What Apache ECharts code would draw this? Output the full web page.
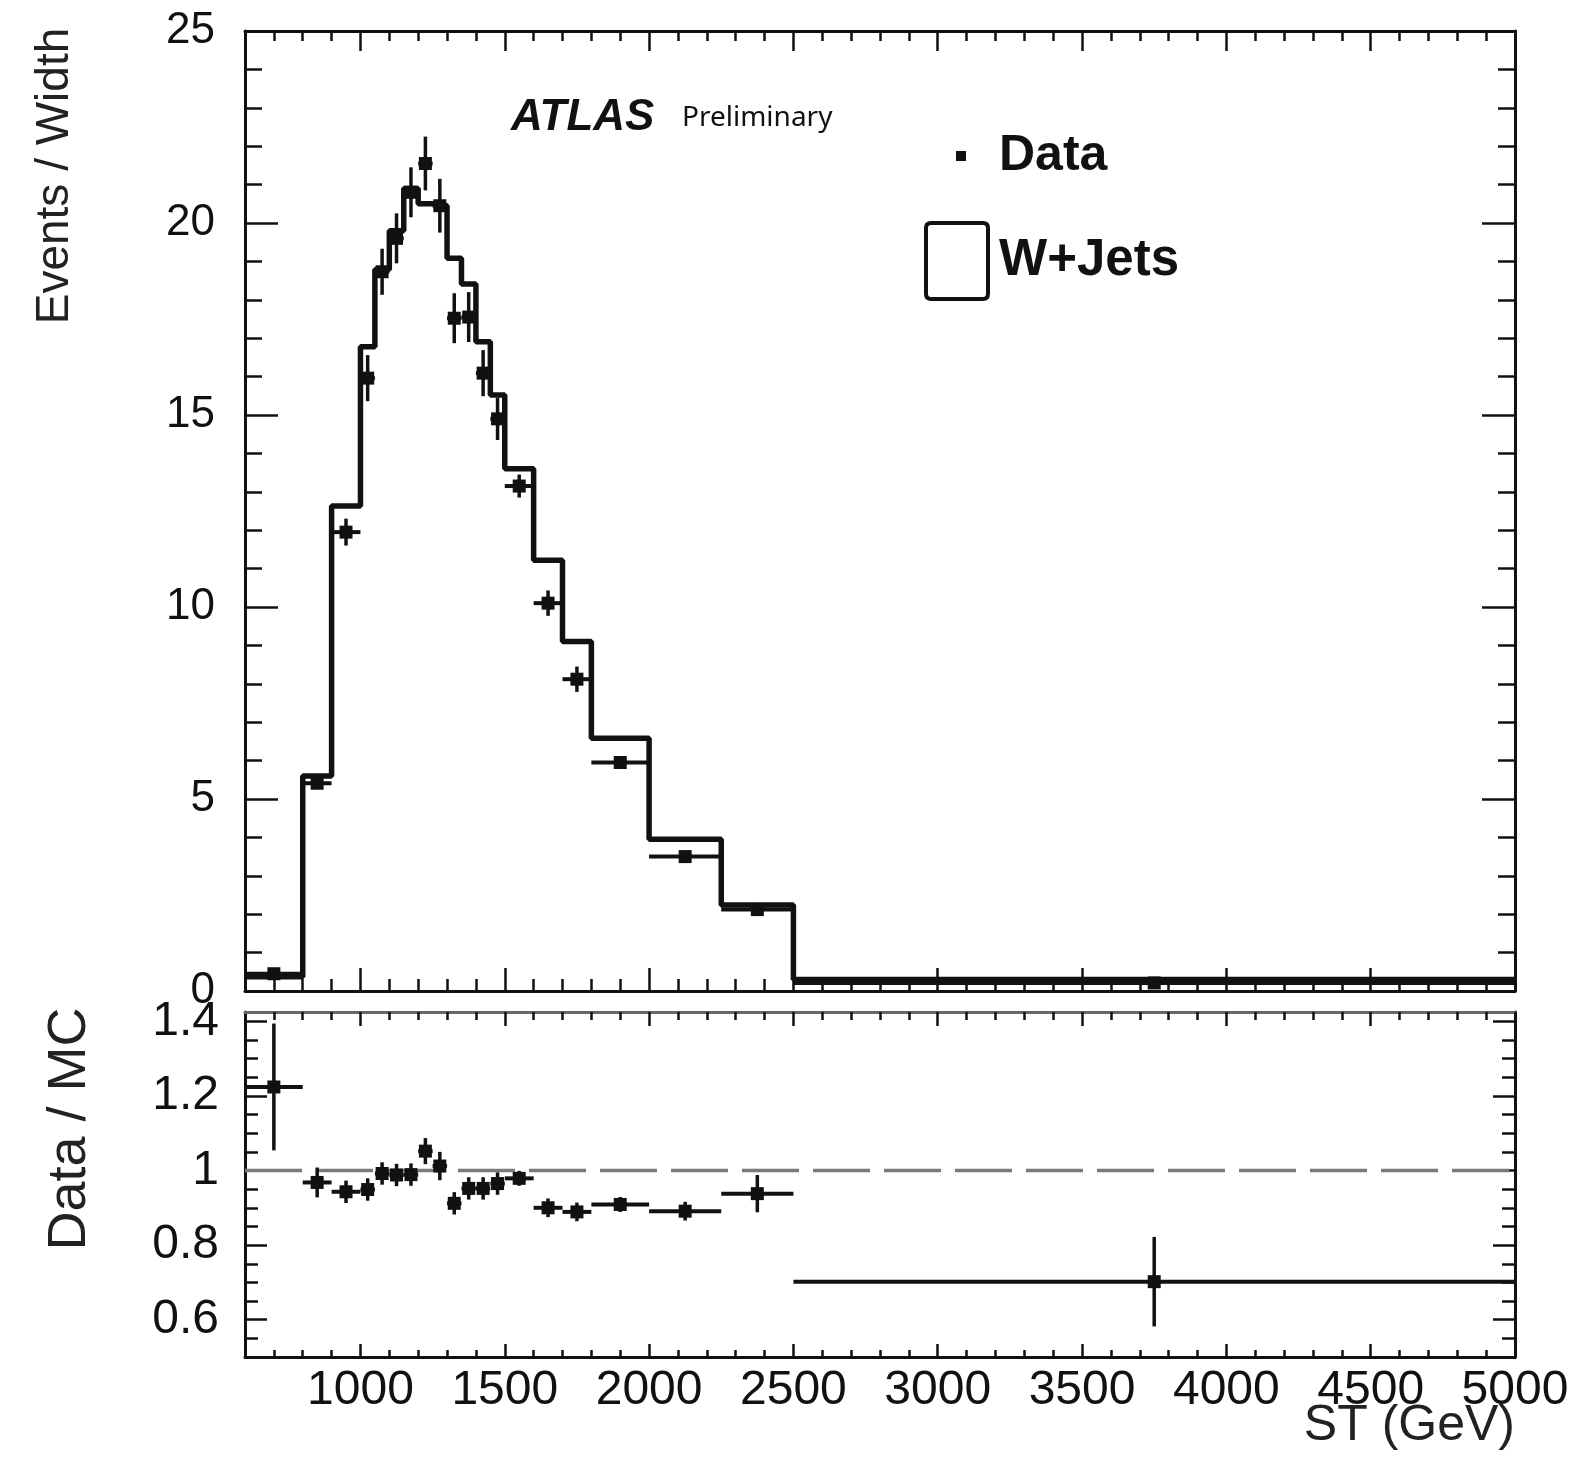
<!DOCTYPE html>
<html>
<head>
<meta charset="utf-8">
<title>ST distribution: Data vs W+Jets</title>
<script src="https://cdn.jsdelivr.net/npm/echarts@6/dist/echarts.min.js"></script>
<style>
  html, body { margin: 0; padding: 0; background: #fff; }
  #chart { width: 1578px; height: 1468px; }
</style>
</head>
<body>
<div id="chart"></div>
<script>
// ST binning (GeV): 20 bins, variable width
const binEdges = [600, 800, 900, 1000, 1050, 1100, 1150, 1200, 1250, 1300, 1350,
                  1400, 1450, 1500, 1600, 1700, 1800, 2000, 2250, 2500, 5000];

// W+Jets prediction, events / width
const wjetsValues = [0.37, 5.6, 12.63, 16.78, 18.79, 19.8, 20.9, 20.5, 20.45, 19.08,
                     18.41, 16.91, 15.52, 13.6, 11.22, 9.1, 6.58, 3.95, 2.24, 0.3];

// Observed data, events / width, with statistical errors
const dataValues = [0.45, 5.41, 11.95, 15.96, 18.73, 19.6, 20.8, 21.55, 20.45, 17.52,
                    17.55, 16.09, 14.9, 13.15, 10.1, 8.12, 5.95, 3.5, 2.12, 0.21];
const dataErrors = [0.06, 0.15, 0.35, 0.6, 0.6, 0.65, 0.65, 0.7, 0.7, 0.65,
                    0.65, 0.6, 0.55, 0.3, 0.33, 0.33, 0.12, 0.08, 0.1, 0.03];

// Data / MC ratio with errors
const ratioValues = [1.224, 0.968, 0.943, 0.949, 0.992, 0.988, 0.989, 1.052, 1.012, 0.912,
                     0.952, 0.952, 0.965, 0.979, 0.900, 0.889, 0.909, 0.891, 0.938, 0.702];
const ratioErrors = [0.17, 0.04, 0.03, 0.03, 0.03, 0.03, 0.03, 0.035, 0.038, 0.03,
                     0.03, 0.03, 0.03, 0.02, 0.025, 0.025, 0.02, 0.025, 0.05, 0.12];

// Axis ticks and labels
const xMajorTicks = [1000, 1500, 2000, 2500, 3000, 3500, 4000, 4500, 5000];
const yMainTicks = [0, 5, 10, 15, 20, 25];
const yRatioTicks = [0.6, 0.8, 1, 1.2, 1.4];
const ratioReference = 1;

function steps(start, stop, step, skip) {
  const out = [];
  for (let v = start; v <= stop + 1e-9; v += step) {
    const r = Math.round(v * 1000) / 1000;
    if (!skip.some(s => Math.abs(s - r) < 1e-9)) out.push(r);
  }
  return out;
}
const xMinorTicks = steps(700, 4900, 100, xMajorTicks);
const yMainMinor = steps(1, 24, 1, yMainTicks);
const yRatioMinor = steps(0.55, 1.4, 0.05, yRatioTicks);

const FONT = 'Liberation Sans';
const INK = '#111';
const plain = v => String(v);

// Histogram outline: one point per lower bin edge plus the closing edge
const stepData = binEdges.slice(0, -1).map((e, i) => [e, wjetsValues[i]])
  .concat([[binEdges[binEdges.length - 1], wjetsValues[wjetsValues.length - 1]]]);

function pointRows(values, errors) {
  return values.map((v, i) => [(binEdges[i] + binEdges[i + 1]) / 2, v, errors[i], binEdges[i], binEdges[i + 1]]);
}

// Marker with vertical (stat) and horizontal (bin width) error bars
function renderErrorPoint(params, api) {
  const x = api.value(0), y = api.value(1), e = api.value(2);
  const lo = api.value(3), hi = api.value(4);
  const c = api.coord([x, y]);
  const left = api.coord([lo, y]);
  const right = api.coord([hi, y]);
  const top = api.coord([x, y + e]);
  const bot = api.coord([x, y - e]);
  const s = 13;
  return {
    type: 'group',
    children: [
      { type: 'line', shape: { x1: left[0], y1: c[1], x2: right[0], y2: c[1] },
        style: { stroke: INK, lineWidth: 4 } },
      { type: 'line', shape: { x1: c[0], y1: top[1], x2: c[0], y2: bot[1] },
        style: { stroke: INK, lineWidth: 3.5 } },
      { type: 'rect', shape: { x: c[0] - s / 2, y: c[1] - s / 2, width: s, height: s },
        style: { fill: INK } }
    ]
  };
}

function xAxisDef(grid, position, ticks, len, showLine, lineColor, label) {
  return {
    gridIndex: grid, type: 'value', min: 600, max: 5000, position: position,
    axisLine: { show: showLine, onZero: false, lineStyle: { color: lineColor, width: 3 } },
    axisTick: { show: true, inside: true, length: len, customValues: ticks,
                lineStyle: { color: INK, width: 2.5 } },
    axisLabel: label ? Object.assign({ show: true, customValues: ticks, formatter: plain }, label)
                     : { show: false },
    splitLine: { show: false }
  };
}

function yAxisDef(grid, position, min, max, ticks, len, showLine, label) {
  return {
    gridIndex: grid, type: 'value', min: min, max: max, position: position,
    axisLine: { show: showLine, onZero: false, lineStyle: { color: INK, width: 3 } },
    axisTick: { show: true, inside: true, length: len, customValues: ticks,
                lineStyle: { color: INK, width: 2.5 } },
    axisLabel: label ? Object.assign({ show: true, customValues: ticks, formatter: plain }, label)
                     : { show: false },
    splitLine: { show: false }
  };
}

const chart = echarts.init(document.getElementById('chart'), null, { renderer: 'canvas' });

chart.setOption({
  backgroundColor: '#fff',
  animation: false,
  grid: [
    { left: 245, right: 63, top: 31, height: 960 },
    { left: 245, right: 63, top: 1012, height: 345 }
  ],
  xAxis: [
    xAxisDef(0, 'bottom', xMajorTicks, 23, true, INK),
    xAxisDef(0, 'bottom', xMinorTicks, 12, false, INK),
    xAxisDef(0, 'top', xMajorTicks, 20, true, INK),
    xAxisDef(0, 'top', xMinorTicks, 10, false, INK),
    xAxisDef(1, 'bottom', xMajorTicks, 13, true, INK,
      { fontFamily: FONT, fontSize: 48, color: INK, margin: 10 }),
    xAxisDef(1, 'bottom', xMinorTicks, 7, false, INK),
    xAxisDef(1, 'top', xMajorTicks, 14, true, '#666'),
    xAxisDef(1, 'top', xMinorTicks, 8, false, INK)
  ],
  yAxis: [
    yAxisDef(0, 'left', 0, 25, yMainTicks, 33, true,
      { fontFamily: FONT, fontSize: 44, color: INK, margin: 30 }),
    yAxisDef(0, 'left', 0, 25, yMainMinor, 17, false),
    yAxisDef(0, 'right', 0, 25, yMainTicks, 33, true),
    yAxisDef(0, 'right', 0, 25, yMainMinor, 17, false),
    yAxisDef(1, 'left', 0.5, 1.425, yRatioTicks, 22, true,
      { fontFamily: FONT, fontSize: 48, color: INK, margin: 26 }),
    yAxisDef(1, 'left', 0.5, 1.425, yRatioMinor, 13, false),
    yAxisDef(1, 'right', 0.5, 1.425, yRatioTicks, 22, true),
    yAxisDef(1, 'right', 0.5, 1.425, yRatioMinor, 13, false)
  ],
  legend: [
    {
      data: [{ name: 'Data', icon: 'rect' }],
      left: 951, top: 126, itemWidth: 10, itemHeight: 10, selectedMode: false,
      textStyle: { fontFamily: FONT, fontSize: 50, fontWeight: 'bold', color: INK,
                   padding: [0, 0, 0, 28] }
    },
    {
      data: [{ name: 'W+Jets',
               icon: 'path://M5,0 H57 Q62,0 62,5 V71 Q62,76 57,76 H5 Q0,76 0,71 V5 Q0,0 5,0 Z',
               itemStyle: { color: '#fff', borderColor: INK, borderWidth: 4 } }],
      left: 919, top: 216, itemWidth: 62, itemHeight: 76, selectedMode: false,
      textStyle: { fontFamily: FONT, fontSize: 51, fontWeight: 'bold', color: INK,
                   padding: [8, 0, 0, 6] }
    }
  ],
  graphic: [
    { type: 'text', x: 55, y: 176, rotation: Math.PI / 2,
      style: { text: 'Events / Width', font: '46px "Liberation Sans"', fill: '#222',
               align: 'center', verticalAlign: 'middle' } },
    { type: 'text', x: 70, y: 1129, rotation: Math.PI / 2,
      style: { text: 'Data / MC', font: '54px "Liberation Sans"', fill: '#222',
               align: 'center', verticalAlign: 'middle' } },
    { type: 'text', x: 1515, y: 1426,
      style: { text: 'ST (GeV)', font: '50px "Liberation Sans"', fill: '#222',
               align: 'right', verticalAlign: 'middle' } },
    { type: 'text', x: 511, y: 118,
      style: { text: 'ATLAS', font: 'italic bold 44px "Liberation Sans"', fill: INK,
               align: 'left', verticalAlign: 'middle' } },
    { type: 'text', x: 682, y: 118,
      style: { text: 'Preliminary', font: '28px "Noto Sans"', fill: INK,
               align: 'left', verticalAlign: 'middle' } }
  ],
  series: [
    {
      name: 'W+Jets', type: 'line', xAxisIndex: 0, yAxisIndex: 0,
      step: 'end', data: stepData, symbol: 'none',
      lineStyle: { color: INK, width: 5.5 }, itemStyle: { color: INK }, z: 3
    },
    {
      name: 'Data', type: 'custom', xAxisIndex: 0, yAxisIndex: 0,
      renderItem: renderErrorPoint, data: pointRows(dataValues, dataErrors),
      encode: { x: [0, 3, 4], y: 1 }, itemStyle: { color: INK }, z: 4
    },
    {
      name: 'Ratio reference', type: 'line', xAxisIndex: 4, yAxisIndex: 4,
      data: [[binEdges[0], ratioReference], [binEdges[binEdges.length - 1], ratioReference]],
      symbol: 'none', lineStyle: { color: '#7a7a7a', width: 3.5, type: [57, 14] }, z: 2
    },
    {
      name: 'Data / MC', type: 'custom', xAxisIndex: 4, yAxisIndex: 4,
      renderItem: renderErrorPoint, data: pointRows(ratioValues, ratioErrors),
      encode: { x: [0, 3, 4], y: 1 }, itemStyle: { color: INK }, z: 4
    }
  ]
});
</script>
</body>
</html>
